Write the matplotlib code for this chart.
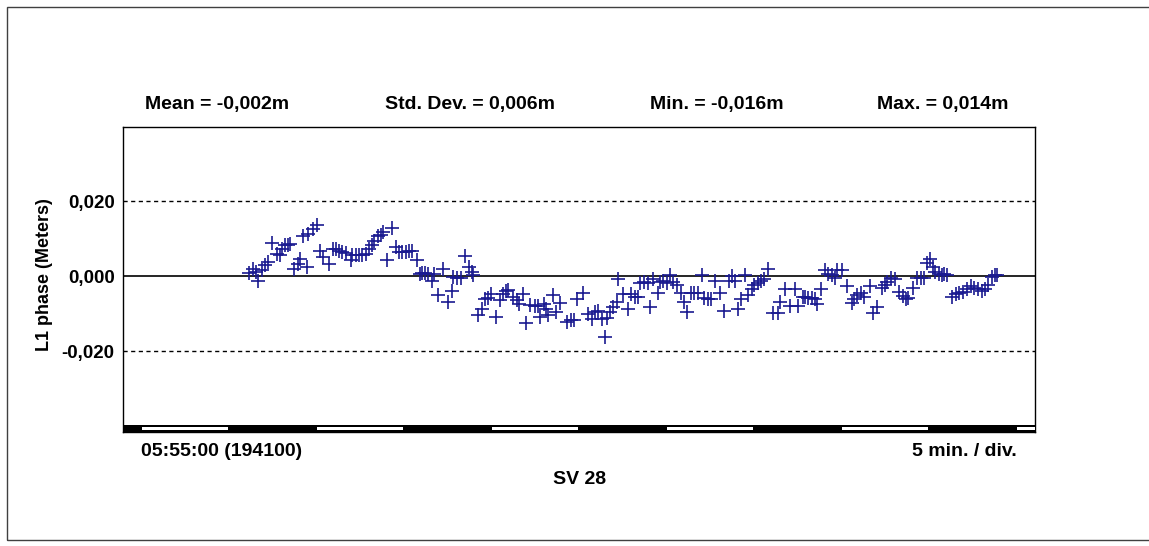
import matplotlib.pyplot as plt
from matplotlib.patches import Rectangle
import numpy as np

plt.rcParams['font.family'] = ['Liberation Sans', 'DejaVu Sans']

# minutes after 05:55:00, L1 phase residual in meters
t_min = [7.20, 7.45, 7.58, 7.73, 7.92, 8.11, 8.30, 8.50, 8.78, 8.97, 9.07, 9.26, 9.45, 9.54,
         9.79, 9.98, 10.11, 10.30, 10.50, 10.59, 10.88, 11.07, 11.26, 11.45, 11.77, 12.02,
         12.17, 12.34, 12.53, 12.72, 13.01, 13.10, 13.30, 13.49, 13.68, 13.89, 14.08, 14.21,
         14.36, 14.55, 14.72, 14.88, 15.07, 15.35, 15.58, 15.77, 15.96, 16.15, 16.34, 16.53,
         16.78, 16.97,
         17.07, 17.26, 17.45, 17.64, 17.77, 18.02, 18.30, 18.59, 18.78, 18.87, 19.10, 19.29,
         19.54, 19.79, 19.92, 20.02, 20.30, 20.49, 20.68, 20.87, 21.01, 21.31, 21.54, 21.73,
         21.88, 22.02, 22.30, 22.53, 22.65, 22.87, 23.03, 23.26, 23.54, 23.73, 23.83, 24.06,
         24.17, 24.30, 24.59, 24.74, 24.97, 25.35, 25.58, 25.77, 25.96, 26.27, 26.59, 26.78,
         26.97, 27.16, 27.35, 27.54,
         27.64, 27.83, 28.02, 28.21, 28.30, 28.59, 28.84, 29.03, 29.25, 29.41, 29.54, 29.79,
         29.98, 30.11, 30.30, 30.55, 30.68, 30.87, 31.06, 31.25, 31.45, 31.64, 31.88, 32.07,
         32.21, 32.45, 32.64, 32.83, 33.10, 33.22, 33.44, 33.60, 33.83, 34.11, 34.36, 34.63,
         34.78, 34.97, 35.16, 35.31, 35.54, 35.69, 35.92, 36.07, 36.26, 36.45, 36.64, 36.87,
         37.16, 37.41, 37.54, 37.83, 38.11, 38.40, 38.55, 38.87,
         38.97, 39.17, 39.36, 39.55, 39.68, 39.87, 40.12, 40.31, 40.50, 40.69, 40.82, 41.07,
         41.36, 41.64, 41.78, 41.97, 42.16, 42.35, 42.69, 42.84, 43.11, 43.36, 43.55, 43.68,
         43.87, 44.12, 44.37, 44.56, 44.75, 44.88, 45.17, 45.39, 45.58, 45.77, 45.93, 46.12,
         46.27, 46.40, 46.65, 46.79, 46.92, 47.07, 47.36, 47.60, 47.79, 48.02, 48.21, 48.44,
         48.63, 48.88, 49.07, 49.26, 49.45, 49.64, 49.83, 49.97]

l1_phase = [0.0009, 0.0020, 0.0011, -0.0012, 0.0015, 0.0029, 0.0037, 0.0089, 0.0060, 0.0057,
            0.0073, 0.0082, 0.0082, 0.0085, 0.0020, 0.0033, 0.0046, 0.0107, 0.0024, 0.0113,
            0.0126, 0.0135, 0.0066, 0.0051, 0.0033, 0.0071, 0.0073, 0.0066, 0.0064, 0.0062,
            0.0042, 0.0057, 0.0055, 0.0057, 0.0055, 0.0060, 0.0073, 0.0082, 0.0093, 0.0107,
            0.0109, 0.0117, 0.0042, 0.0128, 0.0077, 0.0064, 0.0064, 0.0064, 0.0066, 0.0066,
            0.0042, 0.0006,
            0.0009, 0.0009, 0.0006, -0.0012, 0.0006, -0.0050, 0.0018, -0.0068, -0.0041, -0.0003,
            -0.0005, -0.0005, 0.0053, 0.0024, 0.0011, 0.0002, -0.0105, -0.0089, -0.0062, -0.0059,
            -0.0047, -0.0109, -0.0065, -0.0047, -0.0041, -0.0036, -0.0056, -0.0065, -0.0074,
            -0.0047, -0.0124, -0.0078, -0.0080, -0.0081, -0.0109, -0.0074, -0.0089, -0.0105,
            -0.0050, -0.0096, -0.0071, -0.0123, -0.0116, -0.0118, -0.0062, -0.0044, -0.0100,
            -0.0114, -0.0096, -0.0092, -0.0114, -0.0163,
            -0.0112, -0.0096, -0.0082, -0.0068, -0.0007, -0.0047, -0.0089, -0.0047, -0.0056,
            -0.0056, -0.0018, -0.0016, -0.0018, -0.0082, -0.0007, -0.0044, -0.0016, -0.0012,
            -0.0018, 0.0004, -0.0016, -0.0023, -0.0044, -0.0068, -0.0096, -0.0044, -0.0044,
            -0.0044, 0.0004, -0.0059, -0.0060, -0.0062, -0.0012, -0.0044, -0.0094, -0.0012,
            0.0000, -0.0012, -0.0089, -0.0062, 0.0004, -0.0050, -0.0035, -0.0025, -0.0018,
            -0.0012, -0.0007, 0.0018, -0.0098, -0.0098, -0.0069, -0.0035, -0.0080, -0.0035,
            -0.0080, -0.0056,
            -0.0056, -0.0059, -0.0059, -0.0062, -0.0074, -0.0034, 0.0015, 0.0006, 0.0002,
            -0.0005, 0.0015, 0.0015, -0.0027, -0.0071, -0.0062, -0.0050, -0.0044, -0.0056,
            -0.0027, -0.0098, -0.0083, -0.0032, -0.0023, -0.0016, -0.0005, -0.0009, -0.0043,
            -0.0053, -0.0062, -0.0059, -0.0032, -0.0005, -0.0005, -0.0005, 0.0036, 0.0046,
            0.0024, 0.0012, 0.0006, 0.0004, 0.0006, 0.0002, -0.0056, -0.0047, -0.0044, -0.0043,
            -0.0035, -0.0027, -0.0032, -0.0035, -0.0041, -0.0035, -0.0023, -0.0003, 0.0004,
            0.0004]

ytick_vals = [-0.02, 0.0, 0.02]
ytick_labels = ['-0,020', '0,000', '0,020']
stats_text = ['Mean = -0,002m', 'Std. Dev. = 0,006m', 'Min. = -0,016m', 'Max. = 0,014m']

W, H = 1149, 546
fig = plt.figure(figsize=(W / 100, H / 100), dpi=100)
fig.patch.set_facecolor('white')

# outer frame of the window
fig.patches.append(Rectangle((7 / W, 1 - 540 / H), 1.2, (540 - 7) / H, transform=fig.transFigure,
                             fill=False, edgecolor='#404040', lw=1.0))

ax = fig.add_axes([123 / W, 1 - 432 / H, (1035 - 123) / W, (432 - 127) / H])
xmax = (1035 - 123) / 17.5
ax.set_xlim(0, xmax)
ax.set_ylim(-(432 - 276) / 3750, (276 - 127) / 3750)

ax.axhline(0, color='black', lw=1.2, zorder=1)
for v in (-0.02, 0.02):
    ax.axhline(v, color='black', lw=1.0, ls=(0, (3, 2.5)), zorder=1)

ax.plot(t_min, l1_phase, ls='none', marker='+', ms=10, mew=1.2, color='#1a1a90', zorder=3)

# time division bar along the bottom
bar_h = 7 / 305
trans = ax.get_xaxis_transform()
ax.add_patch(Rectangle((0, 0), xmax, bar_h, transform=trans, color='black', lw=0, zorder=4))
for s in np.arange(1.1, xmax, 10):
    e = min(s + 4.9, xmax)
    ax.add_patch(Rectangle((s, 2 / 305), e - s, 2.7 / 305, transform=trans,
                           color='white', lw=0, zorder=5))

for sp in ax.spines.values():
    sp.set_linewidth(1.0)
ax.set_xticks([])
ax.set_yticks(ytick_vals)
ax.set_yticklabels(ytick_labels, fontsize=13.5, fontweight='bold')
ax.tick_params(axis='y', length=0, pad=6)

fig.text(45 / W, 1 - 275 / H, 'L1 phase (Meters)', rotation=90, ha='center', va='center',
         fontsize=13, fontweight='bold')

stat_x = [145, 385, 650, 877]
for x, s in zip(stat_x, stats_text):
    fig.text(x / W, 1 - 104 / H, s, ha='left', va='center', fontsize=14, fontweight='bold')

fig.text(141 / W, 1 - 452 / H, '05:55:00 (194100)', ha='left', va='center',
         fontsize=14, fontweight='bold')
fig.text(1017 / W, 1 - 452 / H, '5 min. / div.', ha='right', va='center',
         fontsize=14, fontweight='bold')
fig.text(580 / W, 1 - 480 / H, 'SV 28', ha='center', va='center', fontsize=14, fontweight='bold')

fig.savefig('out.png', dpi=100)
